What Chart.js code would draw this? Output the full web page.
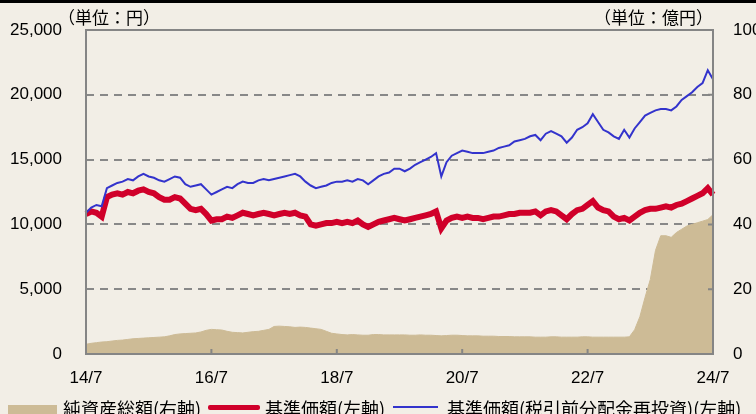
<!DOCTYPE html>
<html>
<head>
<meta charset="utf-8">
<script src="https://cdn.jsdelivr.net/npm/chart.js@4.4.1/dist/chart.umd.min.js"></script>
<style>
  html, body { margin: 0; padding: 0; background: #f2eee6; overflow: hidden; }
  #wrap { position: relative; width: 756px; height: 414px; }
  #topbar { position: absolute; left: 0; top: 0; width: 756px; height: 3px; background: #000; }
  .unit { position: absolute; font: 17px "Noto Sans CJK JP", sans-serif; color: #000; white-space: nowrap; line-height: 17px; }
  #legend { position: absolute; left: 0; top: 398px; width: 756px; height: 20px;
            font: 18px "Noto Sans CJK JP", sans-serif; color: #000; white-space: nowrap; line-height: 20px; }
  #legend span { position: absolute; top: 0; }
  #legend i { position: absolute; display: block; }
</style>
</head>
<body>
<div id="wrap">
  <canvas id="myChart" width="756" height="414"></canvas>
  <div id="topbar"></div>
  <div class="unit" style="left:58px;top:8px;">（単位：円）</div>
  <div class="unit" style="left:594px;top:8px;">（単位：億円）</div>
  <div id="legend">
    <i style="left:8px;top:7px;width:49px;height:14px;background:#cdbb96;"></i>
    <span style="left:63px;">純資産総額(右軸)</span>
    <i style="left:208px;top:7px;width:52px;height:5px;background:#d0002a;border-radius:2px;"></i>
    <span style="left:265px;">基準価額(左軸)</span>
    <i style="left:393px;top:8px;width:45px;height:2px;background:#3333cc;"></i>
    <span style="left:447px;">基準価額(税引前分配金再投資)(左軸)</span>
  </div>
</div>
<script>
// months 2014/7 .. 2024/7
const months = [];
for (let i = 0; i <= 120; i++) {
    const y = 2014 + Math.floor((6 + i) / 12);
    const m = (6 + i) % 12 + 1;
    months.push(String(y).slice(2) + '/' + m);
}

// 純資産総額 (億円, right axis)
const netAssets = [
    3.0, 3.3, 3.5, 3.7, 3.8, 4.0, 4.2, 4.3, 4.5, 4.7,
    4.8, 4.9, 5.0, 5.1, 5.2, 5.3, 5.6, 6.0, 6.2, 6.3,
    6.4, 6.5, 6.8, 7.3, 7.6, 7.5, 7.4, 7.0, 6.7, 6.6,
    6.5, 6.7, 6.9, 7.0, 7.3, 7.6, 8.5, 8.6, 8.5, 8.4,
    8.2, 8.3, 8.2, 8.0, 7.8, 7.6, 7.0, 6.4, 6.2, 6.0,
    5.9, 6.0, 5.9, 5.8, 5.8, 6.0, 6.0, 5.9, 5.9, 5.9,
    5.9, 5.9, 5.8, 5.8, 5.9, 5.8, 5.8, 5.7, 5.6, 5.7,
    5.8, 5.8, 5.7, 5.6, 5.6, 5.6, 5.5, 5.5, 5.5, 5.4,
    5.4, 5.4, 5.3, 5.3, 5.3, 5.3, 5.2, 5.2, 5.2, 5.3,
    5.3, 5.2, 5.2, 5.2, 5.2, 5.3, 5.3, 5.2, 5.2, 5.2,
    5.2, 5.2, 5.2, 5.2, 5.3, 7.5, 11.5, 17.5, 23.0, 32.0,
    36.5, 36.5, 36.0, 37.5, 38.5, 39.5, 40.0, 40.5, 41.0, 41.5, 43.0
];

// 基準価額 (円, left axis)
const nav = [
    10800, 11000, 10900, 10600, 12100, 12300, 12400, 12300, 12500, 12400,
    12600, 12700, 12500, 12400, 12100, 11900, 11900, 12100, 12000, 11600,
    11200, 11100, 11200, 10800, 10300, 10400, 10400, 10600, 10500, 10700,
    10900, 10800, 10700, 10800, 10900, 10800, 10700, 10800, 10900, 10800,
    10900, 10700, 10600, 10000, 9900, 10000, 10100, 10100, 10200, 10100,
    10200, 10100, 10300, 10000, 9800, 10000, 10200, 10300, 10400, 10500,
    10400, 10300, 10400, 10500, 10600, 10700, 10800, 11000, 9700, 10300,
    10500, 10600, 10500, 10600, 10500, 10500, 10400, 10500, 10600, 10600,
    10700, 10800, 10800, 10900, 10900, 10900, 11000, 10700, 11000, 11100,
    11000, 10700, 10400, 10800, 11100, 11200, 11500, 11800, 11300, 11100,
    11000, 10600, 10400, 10500, 10300, 10600, 10900, 11100, 11200, 11200,
    11300, 11400, 11300, 11500, 11600, 11800, 12000, 12200, 12400, 12800, 12300
];

// 基準価額(税引前分配金再投資) (円, left axis)
const navReinvested = [
    10900, 11300, 11500, 11400, 12800, 13000, 13200, 13300, 13500, 13400,
    13700, 13900, 13700, 13600, 13400, 13300, 13500, 13700, 13600, 13100,
    12900, 13000, 13100, 12700, 12300, 12500, 12700, 12900, 12800, 13100,
    13300, 13200, 13200, 13400, 13500, 13400, 13500, 13600, 13700, 13800,
    13900, 13700, 13300, 13000, 12800, 12900, 13000, 13200, 13300, 13300,
    13400, 13300, 13500, 13400, 13100, 13400, 13700, 13900, 14000, 14300,
    14300, 14100, 14300, 14600, 14800, 15000, 15200, 15500, 13700, 14800,
    15300, 15500, 15700, 15600, 15500, 15500, 15500, 15600, 15700, 15900,
    16000, 16100, 16400, 16500, 16600, 16800, 16900, 16500, 17000, 17200,
    17000, 16800, 16300, 16700, 17300, 17500, 17800, 18500, 17900, 17300,
    17100, 16800, 16600, 17300, 16700, 17400, 17900, 18400, 18600, 18800,
    18900, 18900, 18800, 19100, 19600, 19900, 20200, 20600, 20900, 21900, 21200
];

const leftTicks = [0, 5000, 10000, 15000, 20000, 25000];
const rightTicks = [0, 20, 40, 60, 80, 100];

// frame + small inward tick marks
const framePlugin = {
    id: 'frame',
    afterDatasetsDraw(chart) {
        const {ctx, chartArea: a, scales} = chart;
        ctx.save();
        ctx.strokeStyle = '#858585';
        ctx.lineWidth = 2;
        ctx.beginPath();
        for (let i = 24; i < 120; i += 24) {
            const x = scales.x.getPixelForValue(i);
            ctx.moveTo(x, a.bottom);
            ctx.lineTo(x, a.bottom - 5);
        }
        rightTicks.slice(1, -1).forEach(v => {
            const y = scales.y1.getPixelForValue(v);
            ctx.moveTo(a.right, y);
            ctx.lineTo(a.right - 5, y);
        });
        ctx.stroke();
        ctx.strokeRect(a.left, a.top, a.right - a.left, a.bottom - a.top);
        ctx.restore();
    }
};

const tickFont = {family: '"Liberation Sans", Arial, sans-serif', size: 17};

// fixed axis sizes, no extra label padding
function fitV(w) {
    return s => { s.width = w; s.paddingTop = 0; s.paddingBottom = 0; };
}

const myChart = new Chart(document.getElementById('myChart'), {
    type: 'line',
    data: {
        labels: months,
        datasets: [
            {
                label: '基準価額(税引前分配金再投資)(左軸)',
                data: navReinvested,
                yAxisID: 'y',
                borderColor: '#3333cc',
                borderWidth: 2,
                pointRadius: 0,
                order: 0
            },
            {
                label: '基準価額(左軸)',
                data: nav,
                yAxisID: 'y',
                borderColor: '#d0002a',
                borderWidth: 6,
                pointRadius: 0,
                order: 1
            },
            {
                label: '純資産総額(右軸)',
                data: netAssets,
                yAxisID: 'y1',
                borderColor: '#cdbb96',
                backgroundColor: '#cdbb96',
                borderWidth: 1,
                fill: 'origin',
                pointRadius: 0,
                order: 2
            }
        ]
    },
    options: {
        responsive: false,
        animation: false,
        layout: {padding: {top: 30, left: 0, right: 0, bottom: 0}},
        plugins: {legend: {display: false}, tooltip: {enabled: false}},
        scales: {
            x: {
                grid: {display: false, drawTicks: false},
                border: {display: false},
                ticks: {
                    autoSkip: false,
                    maxRotation: 0,
                    padding: 14,
                    color: '#000',
                    font: tickFont,
                    callback: function(v, i) { return i % 24 === 0 ? months[i] : ''; }
                },
                afterFit: s => { s.height = 60; s.paddingLeft = 0; s.paddingRight = 0; }
            },
            y: {
                position: 'left',
                min: 0,
                max: 25000,
                afterBuildTicks: s => { s.ticks = leftTicks.map(v => ({value: v})); },
                grid: {
                    drawTicks: false,
                    color: c => (c.tick.value === 0 || c.tick.value === 25000) ? 'rgba(0,0,0,0)' : '#888',
                    lineWidth: 2
                },
                border: {display: false, dash: [8, 6]},
                ticks: {
                    padding: 24,
                    color: '#000',
                    font: tickFont,
                    callback: v => v.toLocaleString('en-US')
                },
                afterFit: fitV(86)
            },
            y1: {
                position: 'right',
                min: 0,
                max: 100,
                afterBuildTicks: s => { s.ticks = rightTicks.map(v => ({value: v})); },
                grid: {display: false, drawTicks: false},
                border: {display: false},
                ticks: {padding: 20, color: '#000', font: tickFont},
                afterFit: fitV(43)
            }
        }
    },
    plugins: [framePlugin]
});
</script>
</body>
</html>
